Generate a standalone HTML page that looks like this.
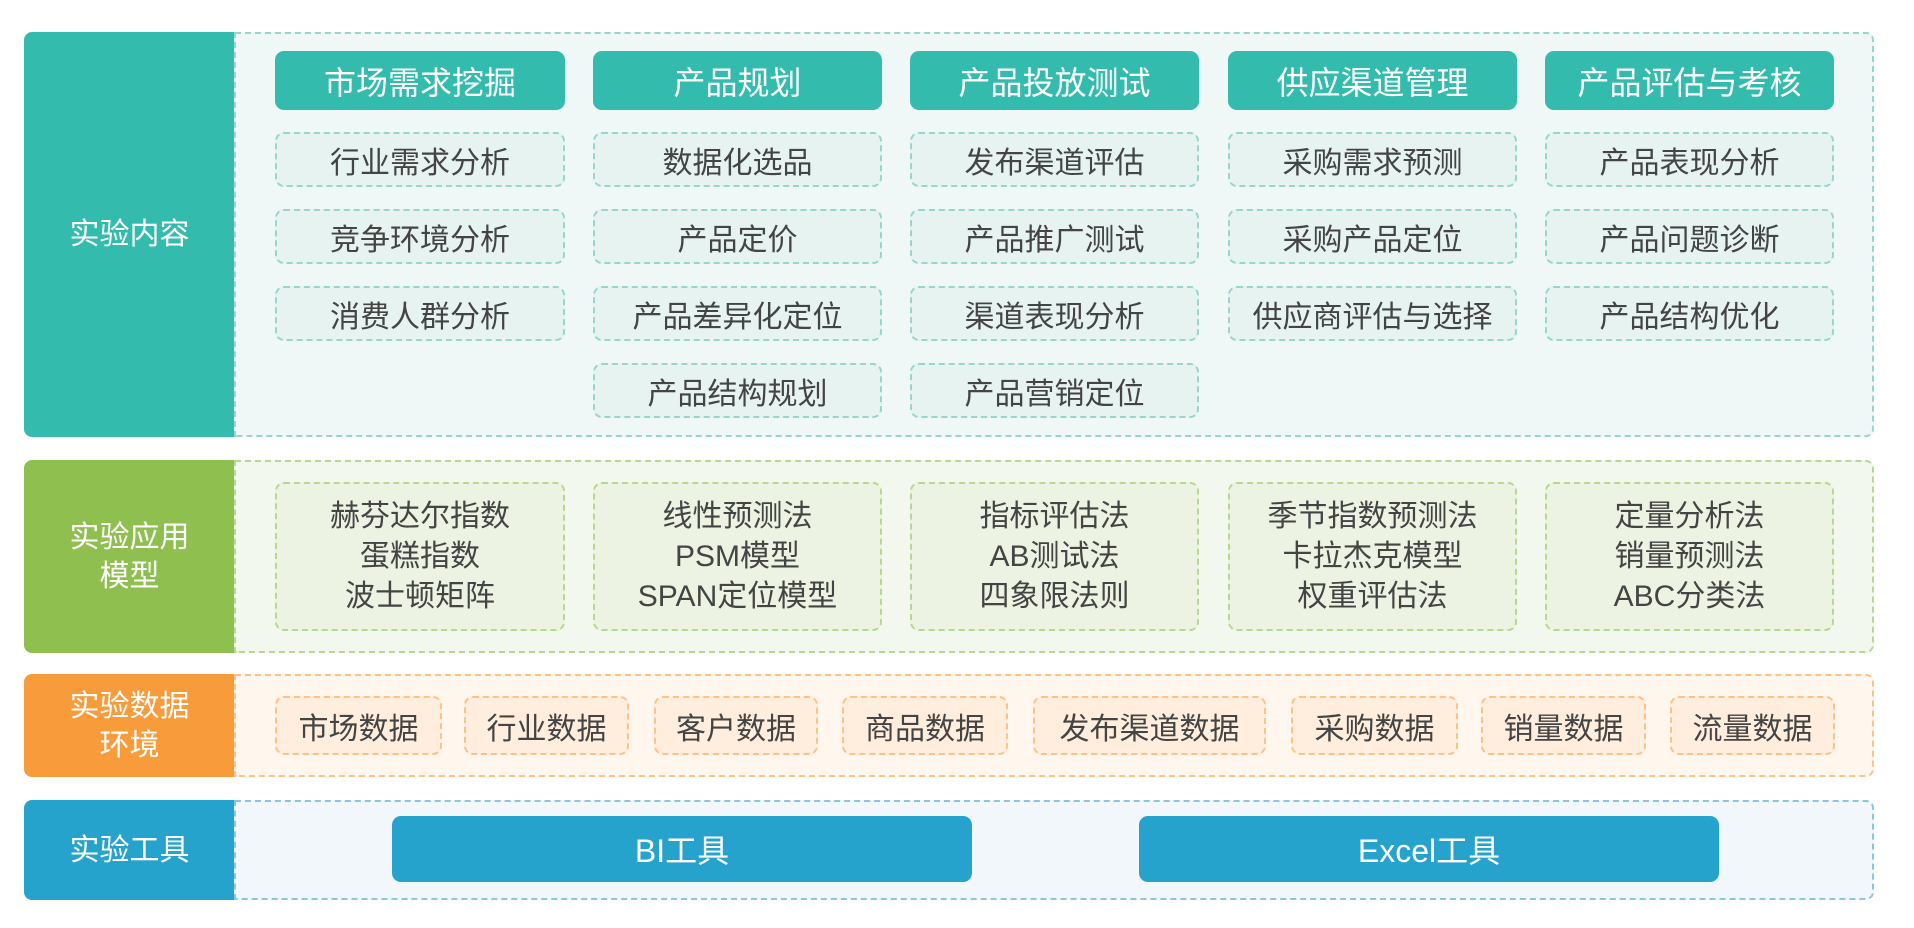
<!DOCTYPE html>
<html><head><meta charset="utf-8"><style>
*{margin:0;padding:0;box-sizing:border-box}
body{width:1914px;height:928px;background:#fff;position:relative;overflow:hidden;font-family:"Liberation Sans","Noto Sans CJK SC",sans-serif}
.a{position:absolute;display:flex;align-items:center;justify-content:center;text-align:center}
.lab{color:#fff;font-size:30px;line-height:39px;border-radius:8px 0 0 8px}
.pan{border-radius:0 8px 8px 0;border:2px dashed}
.hd{background:#33bcad;color:#fff;font-size:32px;border-radius:9px}
.sb{background:#e6f3f1;border:2px dashed #96d6cd;color:#444;font-size:30px;border-radius:9px}
.md{background:#ecf3e3;border:2px dashed #b7d891;color:#444;font-size:30px;line-height:40px;border-radius:9px}
.dt{background:#ffeedd;border:2px dashed #fcc28a;color:#444;font-size:30px;border-radius:9px}
.bt{background:#26a3cc;color:#fff;font-size:32px;border-radius:9px}
</style></head><body>
<div class="a lab" style="left:24px;top:32px;width:211px;height:405px;background:#33bcad">实验内容</div>
<div class="a pan" style="left:234px;top:32px;width:1640px;height:405px;background:#f0f8f7;border-color:#96d6cd"></div>
<div class="a hd" style="left:275px;top:51px;width:290px;height:59px">市场需求挖掘</div>
<div class="a hd" style="left:593px;top:51px;width:289px;height:59px">产品规划</div>
<div class="a hd" style="left:910px;top:51px;width:289px;height:59px">产品投放测试</div>
<div class="a hd" style="left:1228px;top:51px;width:289px;height:59px">供应渠道管理</div>
<div class="a hd" style="left:1545px;top:51px;width:289px;height:59px">产品评估与考核</div>

<div class="a sb" style="left:275px;top:132px;width:290px;height:55px">行业需求分析</div>
<div class="a sb" style="left:275px;top:209px;width:290px;height:55px">竞争环境分析</div>
<div class="a sb" style="left:275px;top:286px;width:290px;height:55px">消费人群分析</div>

<div class="a sb" style="left:593px;top:132px;width:289px;height:55px">数据化选品</div>
<div class="a sb" style="left:593px;top:209px;width:289px;height:55px">产品定价</div>
<div class="a sb" style="left:593px;top:286px;width:289px;height:55px">产品差异化定位</div>
<div class="a sb" style="left:593px;top:363px;width:289px;height:55px">产品结构规划</div>

<div class="a sb" style="left:910px;top:132px;width:289px;height:55px">发布渠道评估</div>
<div class="a sb" style="left:910px;top:209px;width:289px;height:55px">产品推广测试</div>
<div class="a sb" style="left:910px;top:286px;width:289px;height:55px">渠道表现分析</div>
<div class="a sb" style="left:910px;top:363px;width:289px;height:55px">产品营销定位</div>

<div class="a sb" style="left:1228px;top:132px;width:289px;height:55px">采购需求预测</div>
<div class="a sb" style="left:1228px;top:209px;width:289px;height:55px">采购产品定位</div>
<div class="a sb" style="left:1228px;top:286px;width:289px;height:55px">供应商评估与选择</div>

<div class="a sb" style="left:1545px;top:132px;width:289px;height:55px">产品表现分析</div>
<div class="a sb" style="left:1545px;top:209px;width:289px;height:55px">产品问题诊断</div>
<div class="a sb" style="left:1545px;top:286px;width:289px;height:55px">产品结构优化</div>

<div class="a lab" style="left:24px;top:460px;width:211px;height:193px;background:#8fbf4f">实验应用<br>模型</div>
<div class="a pan" style="left:234px;top:460px;width:1640px;height:193px;background:#f3f8ee;border-color:#b7d891"></div>
<div class="a md" style="left:275px;top:482px;width:290px;height:149px">赫芬达尔指数<br>蛋糕指数<br>波士顿矩阵</div>
<div class="a md" style="left:593px;top:482px;width:289px;height:149px">线性预测法<br>PSM模型<br>SPAN定位模型</div>
<div class="a md" style="left:910px;top:482px;width:289px;height:149px">指标评估法<br>AB测试法<br>四象限法则</div>
<div class="a md" style="left:1228px;top:482px;width:289px;height:149px">季节指数预测法<br>卡拉杰克模型<br>权重评估法</div>
<div class="a md" style="left:1545px;top:482px;width:289px;height:149px">定量分析法<br>销量预测法<br>ABC分类法</div>

<div class="a lab" style="left:24px;top:674px;width:211px;height:103px;background:#f89b3b">实验数据<br>环境</div>
<div class="a pan" style="left:234px;top:674px;width:1640px;height:103px;background:#fff7ed;border-color:#fcc28a"></div>
<div class="a dt" style="left:275px;top:696px;width:167px;height:59px">市场数据</div>
<div class="a dt" style="left:464px;top:696px;width:165px;height:59px">行业数据</div>
<div class="a dt" style="left:654px;top:696px;width:164px;height:59px">客户数据</div>
<div class="a dt" style="left:842px;top:696px;width:166px;height:59px">商品数据</div>
<div class="a dt" style="left:1033px;top:696px;width:233px;height:59px">发布渠道数据</div>
<div class="a dt" style="left:1291px;top:696px;width:167px;height:59px">采购数据</div>
<div class="a dt" style="left:1481px;top:696px;width:165px;height:59px">销量数据</div>
<div class="a dt" style="left:1670px;top:696px;width:165px;height:59px">流量数据</div>

<div class="a lab" style="left:24px;top:800px;width:211px;height:100px;background:#26a3cc">实验工具</div>
<div class="a pan" style="left:234px;top:800px;width:1640px;height:100px;background:#f1f7fa;border-color:#8cc5de"></div>
<div class="a bt" style="left:392px;top:816px;width:580px;height:66px">BI工具</div>
<div class="a bt" style="left:1139px;top:816px;width:580px;height:66px">Excel工具</div>
</body></html>
